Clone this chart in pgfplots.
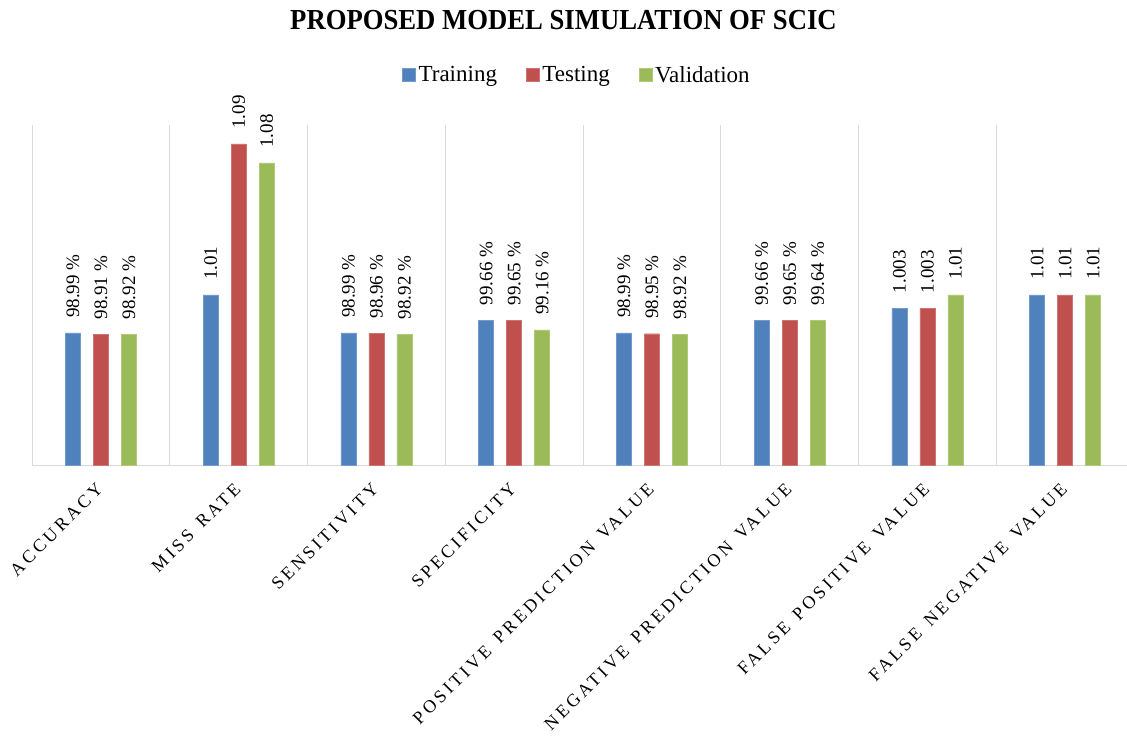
\documentclass[border=0pt]{standalone}
\usepackage{fontspec}
\setmainfont{Liberation Serif}
\newfontfamily\spaced[LetterSpace=18, WordSpace=1.4]{Liberation Serif}
\newfontfamily\titlefont[FakeStretch=0.92]{Liberation Serif Bold}
\usepackage{pgfplots}
\pgfplotsset{compat=1.18}
\definecolor{cblue}{HTML}{4F81BD}
\definecolor{cred}{HTML}{C0504D}
\definecolor{cgreen}{HTML}{9BBB59}
\definecolor{cgrid}{HTML}{D9D9D9}
\begin{document}
\begin{tikzpicture}
\begin{axis}[
  at={(32pt,277pt)}, anchor=south west,
  scale only axis, width=1102pt, height=340pt,
  ybar=13pt, bar width=15pt,
  xmin=-0.5, xmax=7.5, ymin=0.92, ymax=1.1,
  clip=false,
  axis lines*=left,
  y axis line style={draw=none},
  x axis line style={draw=cgrid, line width=0.9pt},
  ytick=\empty,
  xtick={0,...,7},
  xticklabels={ACCURACY, MISS RATE, SENSITIVITY, SPECIFICITY, POSITIVE PREDICTION VALUE, NEGATIVE PREDICTION VALUE, FALSE POSITIVE VALUE, FALSE NEGATIVE VALUE},
  x tick label style={font=\spaced\fontsize{18}{21}\selectfont, xshift=-1pt, yshift=-21pt, rotate=45, anchor=east, inner sep=0pt},
  major tick length=0pt, minor tick length=0pt,
  minor xtick={-0.5,0.5,...,7.5},
  xminorgrids, minor grid style={draw=cgrid, line width=0.9pt},
  point meta=explicit symbolic,
  nodes near coords,
  every node near coord/.append style={yshift=15pt, rotate=90, anchor=west, inner sep=0pt, font=\rmfamily\fontsize{19}{22}\selectfont, text=black},
  title={\titlefont\fontsize{29}{32}\selectfont PROPOSED MODEL SIMULATION OF SCIC},
  title style={at={(0.4823,1)}, anchor=base, yshift=89pt, inner sep=0pt},
  legend columns=3,
  legend style={at={(0.495,1)}, anchor=center, yshift=50pt, draw=none, font=\fontsize{23}{25}\selectfont,
    /tikz/every even column/.append style={column sep=26pt},
    /tikz/every odd column/.append style={column sep=0pt},
    nodes={inner xsep=3pt}},
  legend image code/.code={\fill[#1] (0pt,-6.5pt) rectangle (13pt,6.5pt);},
]
\addplot[fill=cblue, draw=cblue!80!white] coordinates {
  (0,0.9899) [98.99 \%] (1,1.01) [1.01] (2,0.9899) [98.99 \%] (3,0.9966) [99.66 \%]
  (4,0.9899) [98.99 \%] (5,0.9966) [99.66 \%] (6,1.003) [1.003] (7,1.01) [1.01]};
\addplot[fill=cred, draw=cred!80!white] coordinates {
  (0,0.9891) [98.91 \%] (1,1.09) [1.09] (2,0.9896) [98.96 \%] (3,0.9965) [99.65 \%]
  (4,0.9895) [98.95 \%] (5,0.9965) [99.65 \%] (6,1.003) [1.003] (7,1.01) [1.01]};
\addplot[fill=cgreen, draw=cgreen!80!white] coordinates {
  (0,0.9892) [98.92 \%] (1,1.08) [1.08] (2,0.9892) [98.92 \%] (3,0.9916) [99.16 \%]
  (4,0.9892) [98.92 \%] (5,0.9964) [99.64 \%] (6,1.01) [1.01] (7,1.01) [1.01]};
\legend{Training, Testing, Validation}
\end{axis}
\pgfresetboundingbox
\path[use as bounding box] (0,0) rectangle (1127pt,742pt);
\end{tikzpicture}
\end{document}
